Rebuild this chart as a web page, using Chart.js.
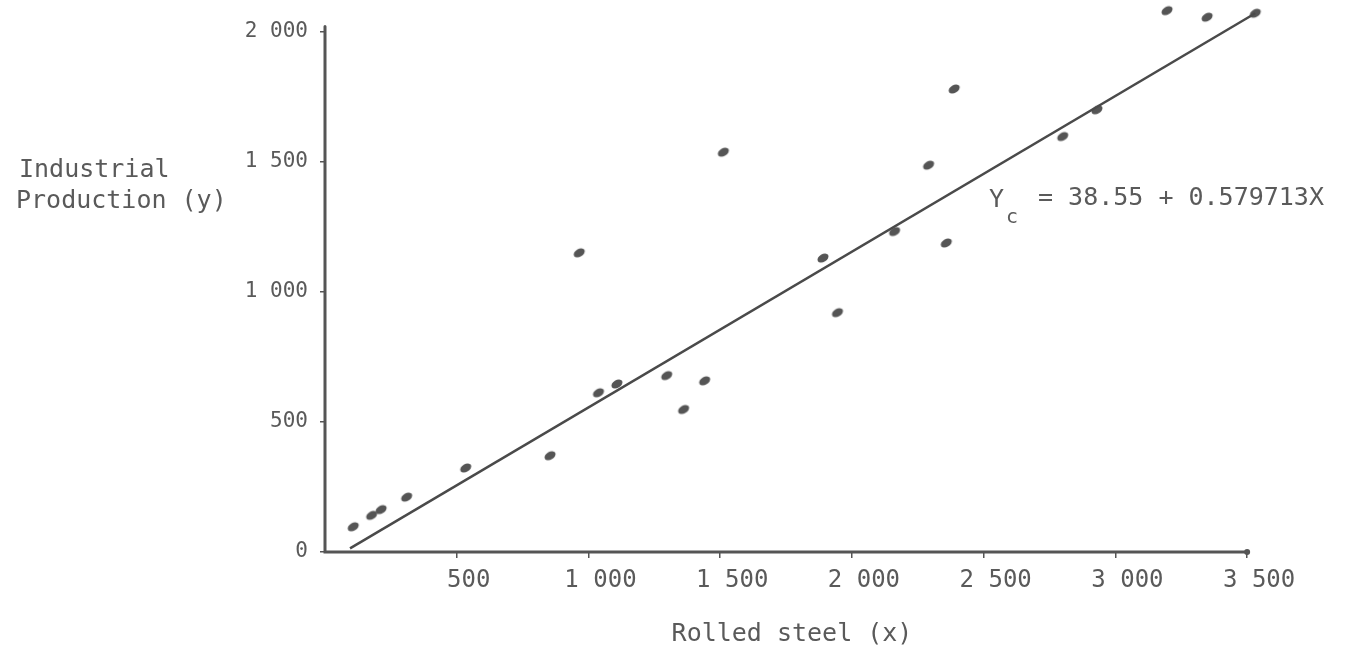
<!DOCTYPE html>
<html>
<head>
<meta charset="utf-8">
<title>Rolled steel vs industrial production</title>
<script src="https://cdn.jsdelivr.net/npm/chart.js@4/dist/chart.umd.min.js"></script>
<style>
  html, body { margin: 0; padding: 0; background: #fff; }
  canvas { display: block; }
</style>
</head>
<body>
<canvas id="chartScatter" width="1357" height="652"></canvas>
<script>
// rolled steel (x) and industrial production (y)
const steelX = [107, 177, 213, 310, 534, 854, 965, 1038, 1108, 1297, 1361, 1441,
    1512, 1890, 1945, 2162, 2291, 2358, 2388, 2800, 2930, 3196, 3348, 3531];
const prodY = [97, 141, 163, 211, 323, 370, 1150, 612, 646, 678, 548, 658,
    1537, 1130, 920, 1232, 1487, 1188, 1780, 1597, 1700, 2081, 2056, 2071];

// ends of the fitted line as drawn
const fitX = [95, 3531];
const fitY = [14, 2071];

const xTickValues = [500, 1000, 1500, 2000, 2500, 3000, 3500];
const xTickLabels = ['500', '1 000', '1 500', '2 000', '2 500', '3 000', '3 500'];
const yTickValues = [0, 500, 1000, 1500, 2000];
const yTickLabels = ['0', '500', '1 000', '1 500', '2 000'];

// how far the drawn axis lines go
const xAxisEnd = 3500;
const yAxisEnd = 2020;

const ink = '#555555';
const textInk = '#5a5a5a';
const mono = '"DejaVu Sans Mono", "Liberation Mono", monospace';

// small tilted blob like the hand-inked dots
function makeDot() {
    const c = document.createElement('canvas');
    c.width = 16;
    c.height = 16;
    const g = c.getContext('2d');
    g.fillStyle = ink;
    g.beginPath();
    g.ellipse(8, 8, 6, 3.9, -0.55, 0, Math.PI * 2);
    g.fill();
    return c;
}

const points = steelX.map((x, i) => ({ x: x, y: prodY[i] }));
const fitLine = fitX.map((x, i) => ({ x: x, y: fitY[i] }));

// the two axis lines, stopped at 3 500 and just above 2 000
const axesPlugin = {
    id: 'axesLines',
    beforeDatasetsDraw(chart) {
        const ctx = chart.ctx;
        const xs = chart.scales.x;
        const ys = chart.scales.y;
        const x0 = xs.getPixelForValue(0);
        const y0 = ys.getPixelForValue(0);
        ctx.save();
        ctx.strokeStyle = ink;
        ctx.lineWidth = 3;
        ctx.lineCap = 'round';
        ctx.beginPath();
        ctx.moveTo(x0, ys.getPixelForValue(yAxisEnd));
        ctx.lineTo(x0, y0);
        ctx.lineTo(xs.getPixelForValue(xAxisEnd), y0);
        ctx.stroke();
        ctx.fillStyle = ink;
        ctx.beginPath();
        ctx.arc(xs.getPixelForValue(xAxisEnd), y0, 3, 0, Math.PI * 2);
        ctx.fill();
        ctx.restore();
    }
};

// y title at top-left and the equation label
const textPlugin = {
    id: 'extraText',
    afterDraw(chart) {
        const ctx = chart.ctx;
        ctx.save();
        ctx.fillStyle = textInk;
        ctx.textBaseline = 'middle';
        ctx.textAlign = 'left';
        ctx.font = '25px ' + mono;
        ctx.fillText('Industrial', 19, 170);
        ctx.fillText('Production (y)', 16, 201);

        ctx.fillText('Y', 989, 200);
        ctx.font = '20px ' + mono;
        ctx.fillText('c', 1006, 218);
        ctx.font = '25px ' + mono;
        ctx.fillText('= 38.55 + 0.579713X', 1038, 198);
        ctx.restore();
    }
};

const ctx = document.getElementById('chartScatter').getContext('2d');
new Chart(ctx, {
    type: 'scatter',
    data: {
        datasets: [{
            type: 'line',
            label: 'Yc',
            data: fitLine,
            borderColor: '#4a4a4a',
            borderWidth: 2.5,
            pointRadius: 0,
            fill: false,
            clip: false
        }, {
            label: 'Observations',
            data: points,
            pointStyle: makeDot(),
            pointRadius: 6,
            clip: false
        }]
    },
    options: {
        responsive: false,
        animation: false,
        layout: {
            padding: { left: 0, right: 98, top: 3, bottom: 0 }
        },
        plugins: {
            legend: { display: false },
            tooltip: { enabled: false }
        },
        scales: {
            x: {
                type: 'linear',
                min: 0,
                max: 3545,
                afterBuildTicks: function (scale) {
                    scale.ticks = xTickValues.map(v => ({ value: v }));
                },
                afterFit: function (scale) {
                    scale.height = 100;
                    scale.paddingLeft = 0;
                    scale.paddingRight = 0;
                },
                grid: {
                    drawOnChartArea: false,
                    drawTicks: true,
                    tickLength: 6,
                    color: ink,
                    lineWidth: 1.5
                },
                border: { display: false },
                ticks: {
                    color: textInk,
                    padding: 8,
                    labelOffset: 12,
                    maxRotation: 0,
                    autoSkip: false,
                    font: { family: mono, size: 24 },
                    callback: function (value) {
                        const i = xTickValues.indexOf(value);
                        return i >= 0 ? xTickLabels[i] : '';
                    }
                },
                title: {
                    display: true,
                    text: 'Rolled steel (x)',
                    color: textInk,
                    font: { family: mono, size: 25 },
                    padding: { top: 0, bottom: 3 }
                }
            },
            y: {
                type: 'linear',
                min: 0,
                max: 2095,
                afterBuildTicks: function (scale) {
                    scale.ticks = yTickValues.map(v => ({ value: v }));
                },
                afterFit: function (scale) {
                    scale.width = 325;
                    scale.paddingTop = 0;
                    scale.paddingBottom = 0;
                },
                grid: {
                    drawOnChartArea: false,
                    drawTicks: true,
                    tickLength: 5,
                    color: ink,
                    lineWidth: 1.5
                },
                border: { display: false },
                ticks: {
                    color: textInk,
                    padding: 12,
                    autoSkip: false,
                    font: { family: mono, size: 21 },
                    callback: function (value) {
                        const i = yTickValues.indexOf(value);
                        return i >= 0 ? yTickLabels[i] : '';
                    }
                }
            }
        }
    },
    plugins: [axesPlugin, textPlugin]
});
</script>
</body>
</html>
